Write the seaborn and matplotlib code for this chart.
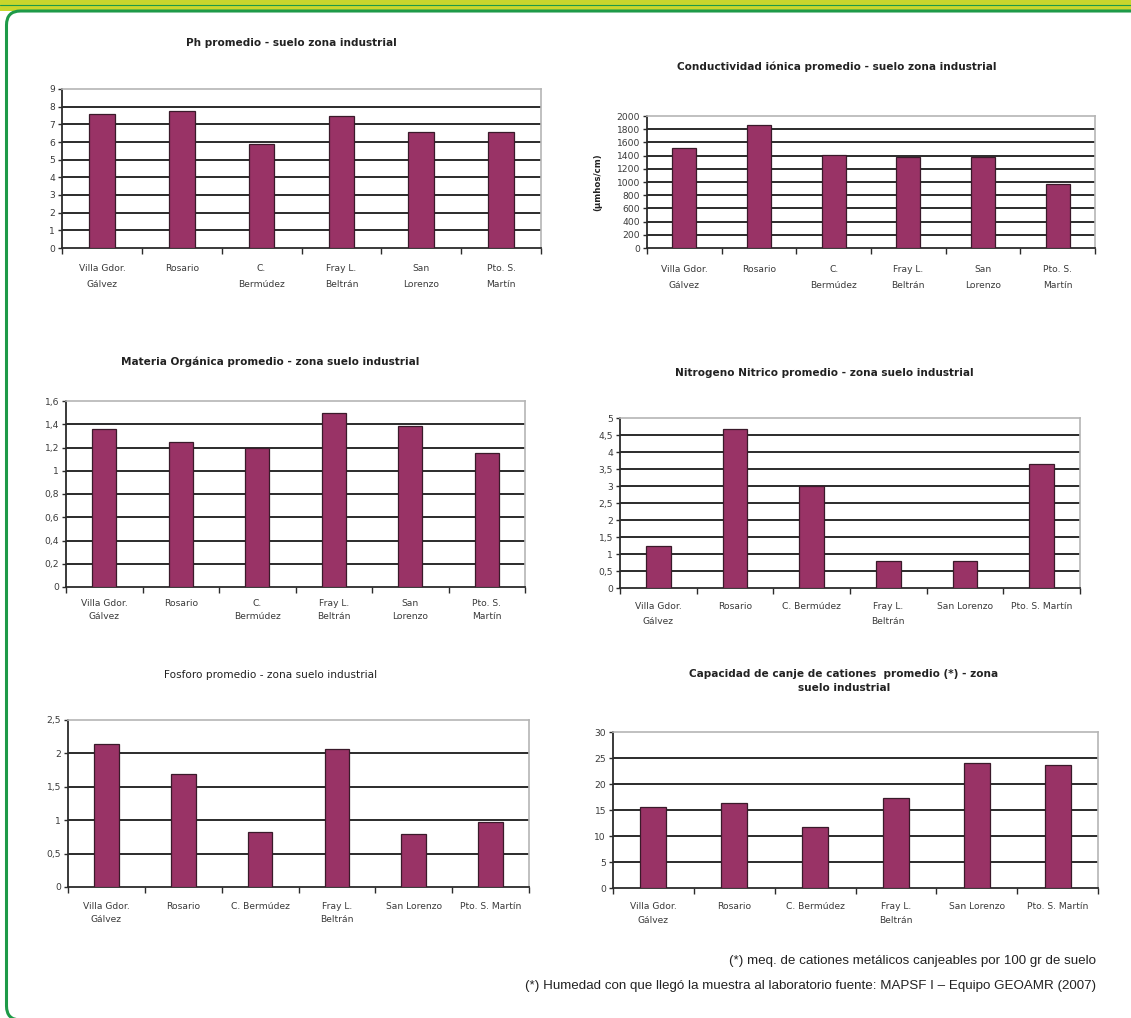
import matplotlib
matplotlib.use("Agg")
import matplotlib.pyplot as plt
import seaborn as sns
import pandas as pd
import numpy as np
from matplotlib.patches import FancyBboxPatch, Rectangle
from matplotlib.lines import Line2D

W, H = 1131, 1018

# ---------------- data ----------------
cats_two = ["Villa Gdor.\nGálvez", "Rosario", "C.\nBermúdez", "Fray L.\nBeltrán",
            "San\nLorenzo", "Pto. S.\nMartín"]
cats_mixed = ["Villa Gdor.\nGálvez", "Rosario", "C. Bermúdez", "Fray L.\nBeltrán",
              "San Lorenzo", "Pto. S. Martín"]

ph_vals = [7.6, 7.77, 5.9, 7.47, 6.57, 6.57]
cond_vals = [1510, 1860, 1410, 1375, 1375, 970]
mo_vals = [1.36, 1.245, 1.2, 1.5, 1.385, 1.15]
nn_vals = [1.23, 4.69, 3.01, 0.8, 0.8, 3.65]
fos_vals = [2.14, 1.69, 0.82, 2.07, 0.79, 0.98]
cic_vals = [15.5, 16.4, 11.7, 17.4, 24.1, 23.7]

ph_ticks = [0, 1, 2, 3, 4, 5, 6, 7, 8, 9]
ph_labels = ["0", "1", "2", "3", "4", "5", "6", "7", "8", "9"]
cond_ticks = [0, 200, 400, 600, 800, 1000, 1200, 1400, 1600, 1800, 2000]
cond_labels = ["0", "200", "400", "600", "800", "1000", "1200", "1400", "1600", "1800", "2000"]
mo_ticks = [0, 0.2, 0.4, 0.6, 0.8, 1.0, 1.2, 1.4, 1.6]
mo_labels = ["0", "0,2", "0,4", "0,6", "0,8", "1", "1,2", "1,4", "1,6"]
nn_ticks = [0, 0.5, 1, 1.5, 2, 2.5, 3, 3.5, 4, 4.5, 5]
nn_labels = ["0", "0,5", "1", "1,5", "2", "2,5", "3", "3,5", "4", "4,5", "5"]
fos_ticks = [0, 0.5, 1, 1.5, 2, 2.5]
fos_labels = ["0", "0,5", "1", "1,5", "2", "2,5"]
cic_ticks = [0, 5, 10, 15, 20, 25, 30]
cic_labels = ["0", "5", "10", "15", "20", "25", "30"]

titles = [
    "Ph promedio - suelo zona industrial",
    "Conductividad iónica promedio - suelo zona industrial",
    "Materia Orgánica promedio - zona suelo industrial",
    "Nitrogeno Nitrico promedio - zona suelo industrial",
    "Fosforo promedio - zona suelo industrial",
    "Capacidad de canje de cationes  promedio (*) - zona\nsuelo industrial",
]
cond_ylabel = "(µmhos/cm)"
footnote1 = "(*) meq. de cationes metálicos canjeables por 100 gr de suelo"
footnote2 = "(*) Humedad con que llegó la muestra al laboratorio fuente: MAPSF I – Equipo GEOAMR (2007)"

# ---------------- style ----------------
sns.set_theme(style="ticks")
plt.rcParams["font.family"] = ["DejaVu Sans"]

fig = plt.figure(figsize=(W / 100, H / 100), dpi=100)
fig.patch.set_facecolor("white")

BAR = "#993366"
DARK = "#2b2b2b"
TXT = "#3a3a3a"


def px_axes(l, t, r, b):
    return fig.add_axes([l / W, 1 - b / H, (r - l) / W, (b - t) / H])


def draw(rect, cats, vals, ticks, tlabels, title, title_xy, bold=True,
         xpad=11, linesp=1.6, ylabel=None):
    ax = px_axes(*rect)
    df = pd.DataFrame({"cat": cats, "val": vals})
    sns.barplot(data=df, x="cat", y="val", color=BAR, saturation=1, width=0.32,
                edgecolor="#3a1a2a", linewidth=0.9, ax=ax, zorder=3)
    ax.set_xlim(-0.5, len(cats) - 0.5)
    ax.set_ylim(ticks[0], ticks[-1])
    ax.set_yticks(ticks)
    ax.set_yticklabels(tlabels)
    ax.set_xticks(np.arange(len(cats)))
    ax.set_xticklabels(cats, linespacing=linesp)
    ax.set_xticks(np.arange(-0.5, len(cats), 1), minor=True)
    ax.set_xlabel("")
    ax.set_ylabel("")
    ax.yaxis.grid(True, color=DARK, lw=1.4)
    ax.set_axisbelow(True)
    gl = ax.get_ygridlines()
    gl[-1].set_visible(False)
    gl[0].set_visible(False)
    ax.tick_params(axis="x", which="major", length=0, pad=xpad, labelsize=6.6,
                   labelcolor=TXT, bottom=True)
    ax.tick_params(axis="x", which="minor", length=4, width=1, color=DARK, bottom=True)
    ax.tick_params(axis="y", which="major", length=3, width=1, color=DARK, pad=2,
                   labelsize=6.6, labelcolor=TXT, left=True)
    for lab in ax.get_xticklabels():
        lab.set_ha("center")
    for s in ["left", "bottom"]:
        ax.spines[s].set_color(DARK)
        ax.spines[s].set_linewidth(1.3)
    for s in ["top", "right"]:
        ax.spines[s].set_visible(True)
        ax.spines[s].set_color("#b5b5b5")
        ax.spines[s].set_linewidth(1.2)
    ax.set_facecolor("white")
    fig.text(title_xy[0] / W, 1 - title_xy[1] / H, title, ha="center", va="center",
             fontsize=7.6, fontweight="bold" if bold else "normal", color="#222222",
             linespacing=1.5)
    if ylabel:
        ax.set_ylabel(ylabel, fontsize=6.2, fontweight="bold", color="#222222")
        ax.yaxis.set_label_coords(-0.1, 0.5)
    return ax


draw((62, 89, 541, 248), cats_two, ph_vals, ph_ticks, ph_labels, titles[0], (291, 43),
     xpad=11.5, linesp=2.0)
draw((647, 116, 1095, 248), cats_two, cond_vals, cond_ticks, cond_labels, titles[1], (837, 67),
     xpad=12, linesp=2.1, ylabel=cond_ylabel)
draw((66, 401, 525, 587), cats_two, mo_vals, mo_ticks, mo_labels, titles[2], (270, 362),
     xpad=8.5, linesp=1.6)
draw((620, 418, 1080, 588), cats_mixed, nn_vals, nn_ticks, nn_labels, titles[3], (824, 373),
     xpad=10, linesp=1.85)
draw((68, 720, 529, 887), cats_mixed, fos_vals, fos_ticks, fos_labels, titles[4], (271, 675),
     bold=False, xpad=10.5, linesp=1.7)
draw((613, 732, 1098, 888), cats_mixed, cic_vals, cic_ticks, cic_labels, titles[5], (844, 681),
     xpad=10, linesp=1.7)

fig.text(1096 / W, 1 - 961 / H, footnote1, ha="right", va="center", fontsize=9.6,
         family=["Liberation Sans", "DejaVu Sans"], color="#222222")
fig.text(1096 / W, 1 - 986 / H, footnote2, ha="right", va="center", fontsize=9.6,
         family=["Liberation Sans", "DejaVu Sans"], color="#222222")

# ---------------- frame ----------------
YEL = "#C9D62C"
GRN = "#1E9A48"
fig.patches.append(Rectangle((0, 1 - 11 / H), 1, 11 / H, transform=fig.transFigure,
                             facecolor=YEL, edgecolor="none", zorder=0))
fig.lines.append(Line2D([0, 1], [1 - 4.8 / H, 1 - 4.8 / H], transform=fig.transFigure,
                        color=GRN, lw=0.8, zorder=1))
# rounded frame: only top and left edges fall inside the image
fig.patches.append(FancyBboxPatch((0.065, -0.02), 11.50, 10.09,
                                  boxstyle="round,pad=0,rounding_size=0.14",
                                  transform=fig.dpi_scale_trans, fill=False,
                                  edgecolor=GRN, lw=2.2, zorder=1))

fig.savefig("out.png", dpi=100, facecolor="white")
